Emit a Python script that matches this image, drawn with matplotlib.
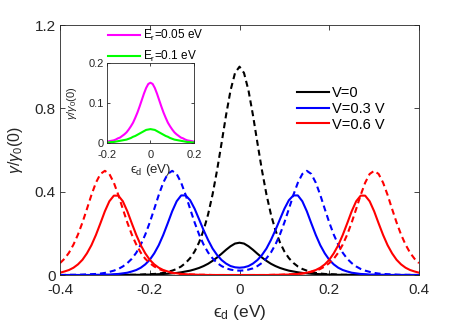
import numpy as np
import matplotlib
matplotlib.use('Agg')
import matplotlib.pyplot as plt

plt.rcParams['font.family'] = ['Liberation Sans', 'DejaVu Sans']
plt.rcParams['mathtext.fontset'] = 'custom'
plt.rcParams['mathtext.rm'] = 'Liberation Sans'
plt.rcParams['mathtext.it'] = 'Liberation Sans:italic'

# energy grid (eV), values every 0.01 eV
eps = np.linspace(-0.4, 0.4, 81)

# V = 0
k_solid = [0.000, 0.000, 0.000, 0.000, 0.000, 0.000, 0.000, 0.000, 0.000, 0.000,
           0.000, 0.000, 0.000, 0.000, 0.001, 0.001, 0.001, 0.001, 0.001, 0.002,
           0.002, 0.003, 0.004, 0.005, 0.006, 0.008, 0.010, 0.013, 0.017, 0.021,
           0.027, 0.034, 0.043, 0.054, 0.068, 0.084, 0.102, 0.121, 0.138, 0.151,
           0.155,
           0.151, 0.138, 0.121, 0.102, 0.084, 0.068, 0.054, 0.043, 0.034, 0.027,
           0.021, 0.017, 0.013, 0.010, 0.008, 0.006, 0.005, 0.004, 0.003, 0.002,
           0.002, 0.001, 0.001, 0.001, 0.001, 0.001, 0.000, 0.000, 0.000, 0.000,
           0.000, 0.000, 0.000, 0.000, 0.000, 0.000, 0.000, 0.000, 0.000, 0.000]
k_dash = [0.000, 0.000, 0.000, 0.000, 0.000, 0.000, 0.000, 0.000, 0.000, 0.000,
          0.000, 0.000, 0.000, 0.000, 0.000, 0.001, 0.001, 0.001, 0.002, 0.003,
          0.004, 0.005, 0.007, 0.010, 0.015, 0.021, 0.029, 0.041, 0.058, 0.081,
          0.113, 0.157, 0.215, 0.291, 0.387, 0.503, 0.633, 0.767, 0.886, 0.970,
          1.000,
          0.970, 0.886, 0.767, 0.633, 0.503, 0.387, 0.291, 0.215, 0.157, 0.113,
          0.081, 0.058, 0.041, 0.029, 0.021, 0.015, 0.010, 0.007, 0.005, 0.004,
          0.003, 0.002, 0.001, 0.001, 0.001, 0.000, 0.000, 0.000, 0.000, 0.000,
          0.000, 0.000, 0.000, 0.000, 0.000, 0.000, 0.000, 0.000, 0.000, 0.000]

# V = 0.3 V
b_solid = [0.000, 0.000, 0.000, 0.000, 0.000, 0.000, 0.000, 0.000, 0.001, 0.001,
           0.002, 0.002, 0.004, 0.005, 0.008, 0.011, 0.017, 0.024, 0.035, 0.051,
           0.073, 0.104, 0.143, 0.192, 0.248, 0.306, 0.354, 0.382, 0.382, 0.359,
           0.318, 0.267, 0.215, 0.168, 0.127, 0.096, 0.072, 0.055, 0.043, 0.037,
           0.035,
           0.037, 0.043, 0.055, 0.072, 0.096, 0.127, 0.168, 0.215, 0.267, 0.318,
           0.359, 0.382, 0.382, 0.354, 0.306, 0.248, 0.192, 0.143, 0.104, 0.073,
           0.051, 0.035, 0.024, 0.017, 0.011, 0.008, 0.005, 0.004, 0.002, 0.002,
           0.001, 0.001, 0.000, 0.000, 0.000, 0.000, 0.000, 0.000, 0.000, 0.000]
b_dash = [0.000, 0.000, 0.001, 0.001, 0.001, 0.002, 0.003, 0.004, 0.005, 0.007,
          0.010, 0.015, 0.021, 0.029, 0.041, 0.057, 0.078, 0.107, 0.146, 0.194,
          0.252, 0.317, 0.384, 0.443, 0.485, 0.500, 0.485, 0.443, 0.384, 0.317,
          0.252, 0.194, 0.146, 0.108, 0.080, 0.058, 0.043, 0.032, 0.026, 0.022,
          0.021,
          0.022, 0.026, 0.032, 0.043, 0.058, 0.080, 0.108, 0.146, 0.194, 0.252,
          0.317, 0.384, 0.443, 0.485, 0.500, 0.485, 0.443, 0.384, 0.317, 0.252,
          0.194, 0.146, 0.107, 0.078, 0.057, 0.041, 0.029, 0.021, 0.015, 0.010,
          0.007, 0.005, 0.004, 0.003, 0.002, 0.001, 0.001, 0.001, 0.000, 0.000]

# V = 0.6 V
r_solid = [0.011, 0.017, 0.024, 0.035, 0.051, 0.073, 0.104, 0.143, 0.192, 0.248,
           0.306, 0.354, 0.381, 0.381, 0.354, 0.306, 0.248, 0.192, 0.143, 0.104,
           0.073, 0.051, 0.035, 0.024, 0.017, 0.011, 0.008, 0.005, 0.004, 0.002,
           0.002, 0.001, 0.001, 0.000, 0.000, 0.000, 0.000, 0.000, 0.000, 0.000,
           0.000,
           0.000, 0.000, 0.000, 0.000, 0.000, 0.000, 0.000, 0.001, 0.001, 0.002,
           0.002, 0.004, 0.005, 0.008, 0.011, 0.017, 0.024, 0.035, 0.051, 0.073,
           0.104, 0.143, 0.192, 0.248, 0.306, 0.354, 0.381, 0.381, 0.354, 0.306,
           0.248, 0.192, 0.143, 0.104, 0.073, 0.051, 0.035, 0.024, 0.017, 0.011]
r_dash = [0.057, 0.078, 0.107, 0.146, 0.194, 0.252, 0.317, 0.384, 0.443, 0.485,
          0.500, 0.485, 0.443, 0.384, 0.317, 0.252, 0.194, 0.146, 0.107, 0.078,
          0.057, 0.041, 0.029, 0.021, 0.015, 0.010, 0.007, 0.005, 0.004, 0.003,
          0.002, 0.001, 0.001, 0.001, 0.000, 0.000, 0.000, 0.000, 0.000, 0.000,
          0.000,
          0.000, 0.000, 0.000, 0.000, 0.000, 0.000, 0.001, 0.001, 0.001, 0.002,
          0.003, 0.004, 0.005, 0.007, 0.010, 0.015, 0.021, 0.029, 0.041, 0.057,
          0.078, 0.107, 0.146, 0.194, 0.252, 0.317, 0.384, 0.443, 0.485, 0.500,
          0.485, 0.443, 0.384, 0.317, 0.252, 0.194, 0.146, 0.107, 0.078, 0.057]

# inset, V = 0
eps_in = np.linspace(-0.2, 0.2, 41)
er005 = [0.004, 0.005, 0.006, 0.007, 0.009, 0.012, 0.014, 0.018, 0.022, 0.027,
         0.034, 0.042, 0.051, 0.063, 0.076, 0.091, 0.107, 0.123, 0.137, 0.147,
         0.150,
         0.147, 0.137, 0.123, 0.107, 0.091, 0.076, 0.063, 0.051, 0.042, 0.034,
         0.027, 0.022, 0.018, 0.014, 0.012, 0.009, 0.007, 0.006, 0.005, 0.004]
er01 = [0.002, 0.002, 0.003, 0.003, 0.004, 0.005, 0.006, 0.007, 0.008, 0.009,
        0.011, 0.013, 0.016, 0.018, 0.021, 0.024, 0.027, 0.030, 0.033, 0.034,
        0.035,
        0.034, 0.033, 0.030, 0.027, 0.024, 0.021, 0.018, 0.016, 0.013, 0.011,
        0.009, 0.008, 0.007, 0.006, 0.005, 0.004, 0.003, 0.003, 0.002, 0.002]

axc = '#262626'
dsh = (2.9, 1.9)
xlab = '\u03f5$_{\\rm d}$ (eV)'

fig = plt.figure(figsize=(4.63, 3.27), dpi=100)
ax = fig.add_axes([0.1296, 0.159, 0.7754, 0.7645])

h0, = ax.plot(eps, k_solid, color='k', lw=1.5)
ax.plot(eps, k_dash, color='k', lw=1.5, ls='--', dashes=dsh)
h1, = ax.plot(eps, b_solid, color=(0, 0, 1), lw=1.5)
ax.plot(eps, b_dash, color=(0, 0, 1), lw=1.5, ls='--', dashes=dsh)
h2, = ax.plot(eps, r_solid, color=(1, 0, 0), lw=1.5)
ax.plot(eps, r_dash, color=(1, 0, 0), lw=1.5, ls='--', dashes=dsh)

ax.set_xlim(-0.4, 0.4)
ax.set_ylim(0, 1.2)
ax.set_xticks([-0.4, -0.2, 0, 0.2, 0.4])
ax.set_xticklabels(['-0.4', '-0.2', '0', '0.2', '0.4'])
ax.set_yticks([0, 0.4, 0.8, 1.2])
ax.set_yticklabels(['0', '0.4', '0.8', '1.2'])
ax.tick_params(direction='in', top=True, right=True, length=3.5, width=0.6,
               labelsize=11, colors=axc)
ax.tick_params(axis='x', pad=6)
ax.tick_params(axis='y', pad=3)
for s in ax.spines.values():
    s.set_color(axc)
    s.set_linewidth(0.6)
ax.set_xlabel(xlab, fontsize=12.5, color=axc, labelpad=4)
ax.set_ylabel(r'$\gamma/\gamma_0$(0)', fontsize=11.5, color=axc, labelpad=7)

ax.legend([h0, h1, h2], ['V=0', 'V=0.3 V', 'V=0.6 V'], loc='upper left',
          bbox_to_anchor=(297 / 463, 1 - 86 / 327), bbox_transform=fig.transFigure,
          frameon=False, fontsize=10.5, handlelength=2.2, handletextpad=0.2,
          labelspacing=0.12, borderpad=0, borderaxespad=0)

# inset
ax2 = fig.add_axes([0.231, 0.562, 0.188, 0.2466])
g0, = ax2.plot(eps_in, er005, color=(1, 0, 1), lw=1.5)
g1, = ax2.plot(eps_in, er01, color=(0, 1, 0), lw=1.5)
ax2.set_xlim(-0.2, 0.2)
ax2.set_ylim(0, 0.2)
ax2.set_xticks([-0.2, 0, 0.2])
ax2.set_xticklabels(['-0.2', '0', '0.2'])
ax2.set_yticks([0, 0.1, 0.2])
ax2.set_yticklabels(['0', '0.1', '0.2'])
ax2.tick_params(direction='in', top=True, right=True, length=2.5, width=0.6,
                labelsize=8, colors=axc)
ax2.tick_params(axis='x', pad=5)
ax2.tick_params(axis='y', pad=2)
for s in ax2.spines.values():
    s.set_color(axc)
    s.set_linewidth(0.6)
ax2.set_xlabel(xlab, fontsize=9.5, color=axc, labelpad=1)
ax2.set_ylabel(r'$\gamma/\gamma_0$(0)', fontsize=8, color=axc, labelpad=7)

fig.legend([g0, g1], [r'E$_{\rm r}$=0.05 eV', r'E$_{\rm r}$=0.1 eV'],
           loc='upper left', bbox_to_anchor=(108 / 463, 1 - 28 / 327),
           frameon=False, fontsize=8.5, handlelength=2.7, handletextpad=0.3,
           labelspacing=0.5, borderpad=0, borderaxespad=0)

fig.savefig('out.png', dpi=100)
